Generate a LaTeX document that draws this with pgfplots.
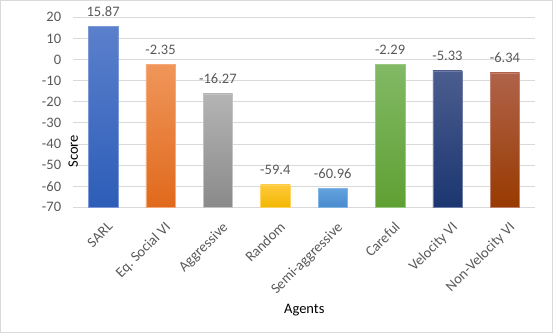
\documentclass[border=0pt]{standalone}
\usepackage{pgfplots}
\pgfplotsset{compat=1.18}
\usepackage{fontspec}
\setmainfont{Carlito}
\definecolor{txt}{HTML}{595959}
\definecolor{grid}{HTML}{D9D9D9}
\definecolor{frame}{HTML}{D9D9D9}
% bar colours, top / bottom of the gradient
\definecolor{c1t}{HTML}{5B80CC}\definecolor{c1b}{HTML}{2D5DB8}
\definecolor{c2t}{HTML}{F0965A}\definecolor{c2b}{HTML}{E0691C}
\definecolor{c3t}{HTML}{B4B4B4}\definecolor{c3b}{HTML}{8A8A8A}
\definecolor{c4t}{HTML}{FFC93C}\definecolor{c4b}{HTML}{F2B700}
\definecolor{c5t}{HTML}{63A2DD}\definecolor{c5b}{HTML}{4A8BCF}
\definecolor{c6t}{HTML}{82B965}\definecolor{c6b}{HTML}{5FA033}
\definecolor{c7t}{HTML}{4B5D8F}\definecolor{c7b}{HTML}{1B3670}
\definecolor{c8t}{HTML}{B0634A}\definecolor{c8b}{HTML}{983A00}

\pgfplotstableread{
x score label
0 15.87 15.87
1 -2.35 -2.35
2 -16.27 -16.27
3 -59.4 -59.4
4 -60.96 -60.96
5 -2.29 -2.29
6 -5.33 -5.33
7 -6.34 -6.34
}\scores

% one bar from the axis floor (-70) up to its score
\newcommand{\scorebar}[3]{%
  \addplot[draw=#3t!80!white, line width=0.4bp, top color=#3t, bottom color=#3b]
    coordinates {(#1-0.256,-70) (#1-0.256,#2) (#1+0.256,#2) (#1+0.256,-70)} -- cycle;
}
\newcommand{\lbl}{\fontsize{14.5bp}{17bp}\selectfont}

\begin{document}
\begin{tikzpicture}
\lbl
\begin{axis}[
    scale only axis,
    width=462bp, height=190bp,
    xmin=-0.52, xmax=7.53,
    ymin=-70, ymax=20,
    ytick={-70,-60,...,20},
    xtick={0,...,7},
    xticklabels={SARL,Eq.\ Social VI,Aggressive,Random,Semi-aggressive,Careful,Velocity\ VI,Non-Velocity\ VI},
    xticklabel style={rotate=45, anchor=north east, inner sep=0pt, xshift=-7bp, yshift=-12bp},
    yticklabel style={inner sep=0pt, xshift=-12bp, anchor=east},
    /pgf/number format/assume math mode=true,
    ticklabel style={text=txt, font=\lbl},
    major tick length=0pt,
    ymajorgrids=true,
    grid style={draw=grid, line width=0.75bp},
    axis lines=left,
    y axis line style={draw=none},
    x axis line style={draw=grid, line width=0.75bp, -},
    xlabel={Agents},
    ylabel={Score},
    label style={text=txt, font=\lbl},
    every axis x label/.style={at={(rel axis cs:0.5,0)}, anchor=center, yshift=-103bp},
    every axis y label/.style={at={(rel axis cs:0,0.51)}, anchor=center, rotate=90, xshift=-41bp},
    clip=false,
]
\scorebar{0}{15.87}{c1}
\scorebar{1}{-2.35}{c2}
\scorebar{2}{-16.27}{c3}
\scorebar{3}{-59.4}{c4}
\scorebar{4}{-60.96}{c5}
\scorebar{5}{-2.29}{c6}
\scorebar{6}{-5.33}{c7}
\scorebar{7}{-6.34}{c8}
\addplot[draw=none, mark=none, nodes near coords, point meta=explicit symbolic,
    every node near coord/.style={anchor=base, inner sep=0pt, yshift=10bp, text=txt, font=\lbl}]
    table[x=x, y=score, meta=label] {\scores};
\end{axis}
\draw[frame, line width=1bp] (-72.8bp,-125.2bp) rectangle (479.2bp,206.8bp);
\useasboundingbox (-73.3bp,-125.7bp) rectangle (479.7bp,207.3bp);
\end{tikzpicture}
\end{document}
